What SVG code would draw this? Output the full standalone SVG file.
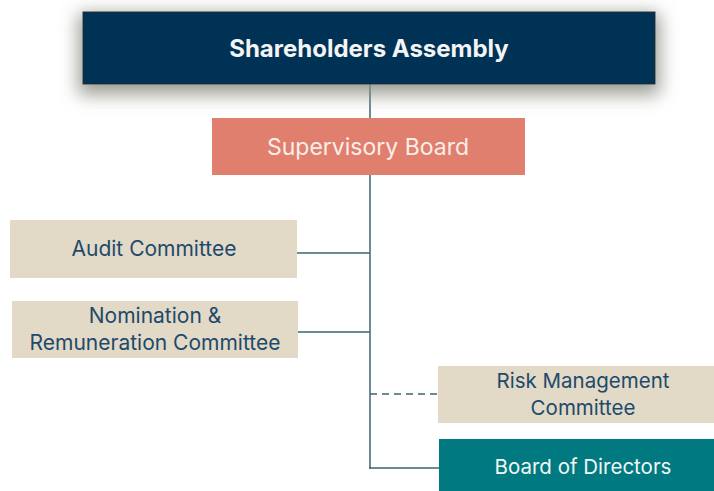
<svg xmlns="http://www.w3.org/2000/svg" width="714" height="491" viewBox="0 0 714 491">
<defs>
<filter id="sh" x="-20%" y="-60%" width="140%" height="240%">
<feMorphology in="SourceAlpha" operator="dilate" radius="4" result="d"/>
<feGaussianBlur in="d" stdDeviation="9"/>
<feOffset dx="0" dy="6" result="b"/>
<feFlood flood-color="#8f9187" flood-opacity="0.9"/>
<feComposite in2="b" operator="in"/>
<feMerge><feMergeNode/><feMergeNode in="SourceGraphic"/></feMerge>
</filter>
</defs>
<style>
.t{font-family:Inter,"Liberation Sans",sans-serif;font-size:21px;text-anchor:middle;fill:#1d4a6b}
.r{font-size:20.5px}
.ln{stroke:#3c6470;stroke-width:1.5;fill:none}
.beige{fill:#e2d9c7}
</style>
<rect width="714" height="491" fill="#ffffff"/>
<g id="connectors">
<line class="ln" x1="370" y1="84" x2="370" y2="469"/>
<line class="ln" x1="297" y1="253" x2="370" y2="253"/>
<line class="ln" x1="298" y1="332" x2="370" y2="332"/>
<line class="ln" x1="370" y1="394" x2="438" y2="394" stroke-dasharray="7,5"/>
<line class="ln" x1="369.25" y1="468" x2="439" y2="468"/>
</g>
<g id="shareholders">
<rect x="83" y="12" width="572" height="72" fill="#003357" stroke="#1e2a33" stroke-width="1" filter="url(#sh)"/>
<text class="t" x="369" y="57" style="font-weight:bold;font-size:24px;fill:#f4f4f4">Shareholders Assembly</text>
</g>
<g id="supervisory">
<rect x="212" y="118" width="313" height="57" fill="#e07f6d"/>
<text class="t" x="368" y="155" style="fill:#fbeee9;font-size:23px">Supervisory Board</text>
</g>
<g id="audit">
<rect class="beige" x="10" y="220" width="287" height="58"/>
<text class="t" x="154" y="256">Audit Committee</text>
</g>
<g id="nomination">
<rect class="beige" x="12" y="301" width="286" height="57"/>
<text class="t" x="155" y="323">Nomination &amp;</text>
<text class="t" x="155" y="350">Remuneration Committee</text>
</g>
<g id="risk">
<rect class="beige" x="438" y="366" width="276" height="57"/>
<text class="t r" x="583" y="388">Risk Management</text>
<text class="t r" x="583" y="415">Committee</text>
</g>
<g id="board">
<rect x="439" y="439" width="275" height="52" fill="#007a80"/>
<text class="t r" x="583" y="474" style="fill:#f2f6f6">Board of Directors</text>
</g>
</svg>
